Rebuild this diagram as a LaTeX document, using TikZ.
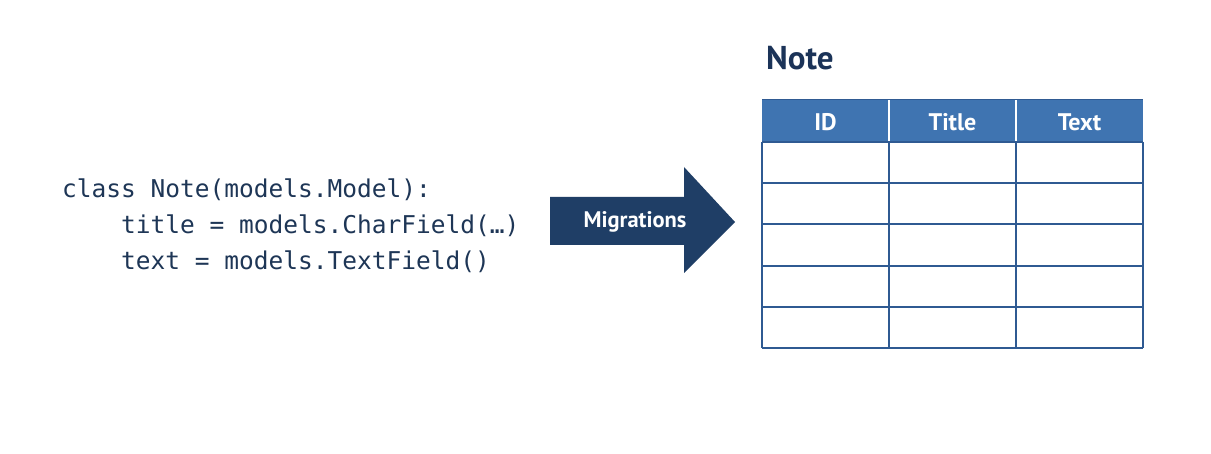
\documentclass[tikz,border=0pt]{standalone}
\usepackage{fontspec}
\setmainfont{PT Sans}
\setmonofont{DejaVu Sans Mono}
\definecolor{navy}{HTML}{1B3358}
\definecolor{arrowblue}{HTML}{1F3E66}
\definecolor{headblue}{HTML}{3F74B1}
\definecolor{gridblue}{HTML}{2F5A92}
\definecolor{codecol}{HTML}{1E3656}
\tikzset{
  codeline/.style={anchor=base west, inner sep=0pt, font=\fontsize{24.5}{24.5}\selectfont\ttfamily, text=codecol},
  headtext/.style={anchor=center, inner sep=0pt, font=\fontsize{24}{24}\selectfont\bfseries, text=white},
  gridline/.style={draw=gridblue, line width=2pt},
}
\begin{document}
\begin{tikzpicture}[x=1pt,y=-1pt]
\useasboundingbox (0,0) rectangle (1211,454);
\fill[white] (0,0) rectangle (1211,454);
% code
\node[codeline] (c1) at (62,198) {class Note(models.Model):};
\node[codeline] (c2) at (121,234) {title = models.CharField(…)};
\node[codeline] (c3) at (121,270) {text = models.TextField()};
% arrow
\fill[arrowblue] (550,197) -- (684,197) -- (684,167) -- (735,222) -- (684,273) -- (684,245) -- (550,245) -- cycle;
\node[anchor=center, inner sep=0pt, font=\fontsize{22.5}{22.5}\selectfont\bfseries, text=white] (mig) at (635,222) {Migrations};
% title
\node[anchor=base west, inner sep=0pt, font=\fontsize{33}{33}\selectfont\bfseries, text=navy] (title) at (766,70) {Note};
% header
\fill[headblue] (762,100) rectangle (1143,142);
\draw[white, line width=2pt] (889,100) -- (889,142) (1016,100) -- (1016,142);
\draw[gridblue, line width=1pt] (762,100) -- (1143,100);
\node[headtext] (hid) at (825.5,122) {ID};
\node[headtext] (htitle) at (952.5,122) {Title};
\node[headtext] (htext) at (1079.5,122) {Text};
% grid
\foreach \y in {142,183.2,224.4,265.6,306.8}
  \draw[gridline] (762,\y) -- (1143,\y);
\draw[gridline] (762,348) -- (1143,348);
\draw[gridline] (762,142) -- (762,348);
\draw[gridline] (889,142) -- (889,348);
\draw[gridline] (1016,142) -- (1016,348);
\draw[gridline] (1143,142) -- (1143,348);
\end{tikzpicture}
\end{document}
